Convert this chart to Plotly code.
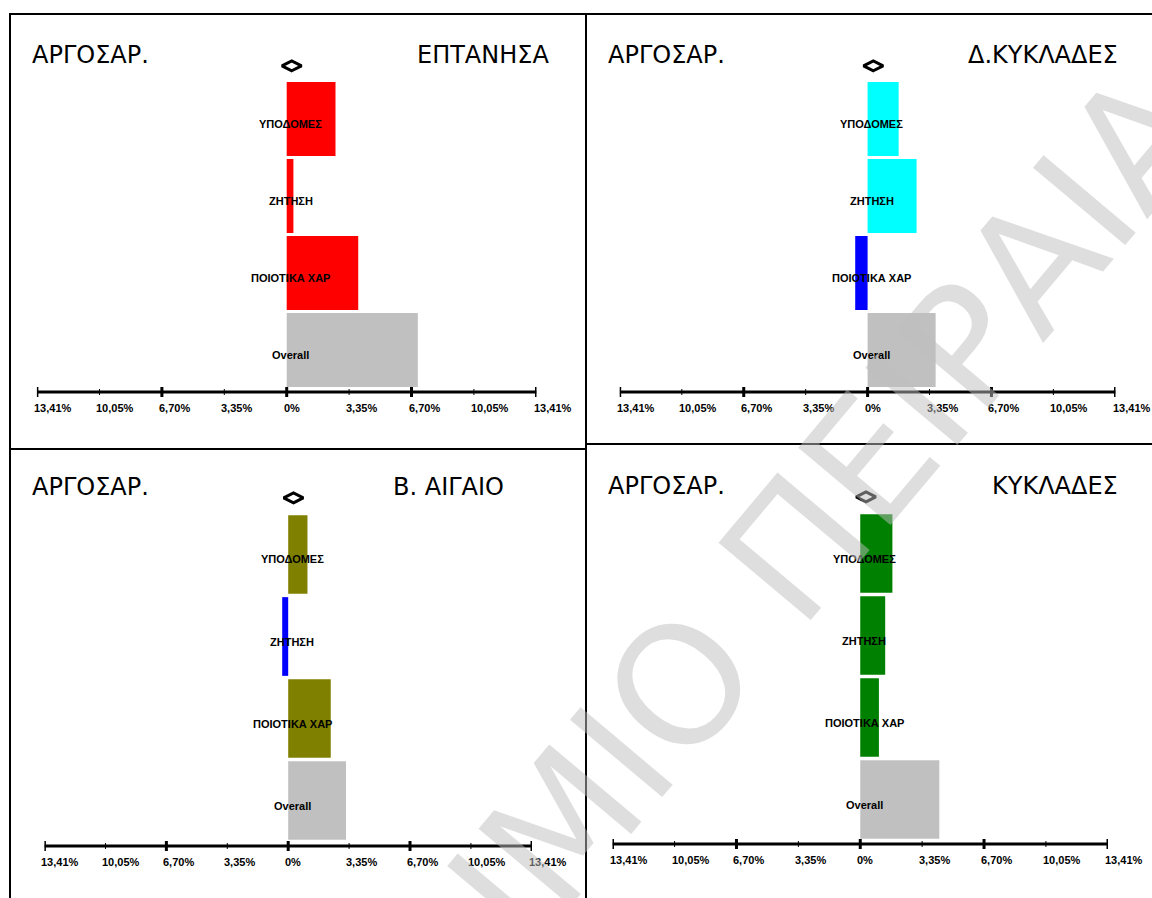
import plotly.graph_objects as go

# ---------------- data ----------------
left_title = "ΑΡΓΟΣΑΡ."
regions = ["ΕΠΤΑΝΗΣΑ", "Δ.ΚΥΚΛΑΔΕΣ", "Β. ΑΙΓΑΙΟ", "ΚΥΚΛΑΔΕΣ"]
categories = ["ΥΠΟΔΟΜΕΣ", "ΖΗΤΗΣΗ", "ΠΟΙΟΤΙΚΑ ΧΑΡ", "Overall"]  # top to bottom

values_eptanisa = [2.62, 0.36, 3.84, 7.04]
values_d_kyklades = [1.68, 2.65, -0.67, 3.68]
values_v_aigaio = [1.06, -0.33, 2.34, 3.18]
values_kyklades = [1.74, 1.35, 1.01, 4.28]
all_values = [values_eptanisa, values_d_kyklades, values_v_aigaio, values_kyklades]

diamond_x = [0.27, 0.31, 0.29, 0.31]

tick_vals = [-13.41, -10.05, -6.70, -3.35, 0, 3.35, 6.70, 10.05, 13.41]
tick_text = ["13,41%", "10,05%", "6,70%", "3,35%", "0%", "3,35%", "6,70%", "10,05%", "13,41%"]
major_ticks = [-13.41, -6.70, 0, 6.70, 13.41]

watermark_text = "ΠΑΝΕΠΙΣΤΗΜΙΟ ΠΕΙΡΑΙΑ"

# ---------------- styling / layout ----------------
W, H = 1152, 898
pos_colors = ["#FF0000", "#00FFFF", "#808000", "#008000"]
neg_color = "#0000FF"
overall_color = "#C0C0C0"
lab_font = "Liberation Sans, Arial, sans-serif"

Y_TOP = 3.9  # room above the top bar for the diamond marker
DIAMOND_Y = 3.69

# pixel geometry per panel: x range px, bottom of y range px, bar pitch px,
# axis y px, title y px, left title x px, right title x px
geo = [
    dict(x=(36.9, 536.5), yb=388.5, pitch=77, axis=392, ty=55, lx=30, rx=415),
    dict(x=(619.7, 1115.5), yb=388.5, pitch=77, axis=392, ty=55, lx=606, rx=966),
    dict(x=(44.4, 532.0), yb=841.5, pitch=82, axis=846, ty=487, lx=30, rx=391),
    dict(x=(612.5, 1108.0), yb=840.5, pitch=82, axis=844, ty=486, lx=606, rx=990),
]

def px(v):
    return v / W

def py(v):
    return 1 - v / H

fig = go.Figure()
shapes = []
annotations = []
ypos = [len(categories) - 1 - i for i in range(len(categories))]

for k, vals in enumerate(all_values):
    g = geo[k]
    n = "" if k == 0 else str(k + 1)
    xa, ya = "x" + n, "y" + n
    colors = []
    for cat, v in zip(categories, vals):
        if cat == "Overall":
            colors.append(overall_color)
        elif v < 0:
            colors.append(neg_color)
        else:
            colors.append(pos_colors[k])
    fig.add_trace(go.Bar(
        x=vals, y=ypos, orientation="h", width=0.96,
        marker=dict(color=colors, line=dict(width=0)),
        xaxis=xa, yaxis=ya, showlegend=False, hoverinfo="skip",
    ))
    fig.add_trace(go.Scatter(
        x=[diamond_x[k]], y=[DIAMOND_Y], mode="markers", cliponaxis=False,
        marker=dict(symbol="diamond-wide-open", size=14, color="black",
                    line=dict(width=3, color="black")),
        xaxis=xa, yaxis=ya, showlegend=False, hoverinfo="skip",
    ))
    ytop_px = g["yb"] - (Y_TOP + 0.5) * g["pitch"]
    fig.layout["xaxis" + n] = dict(domain=[px(g["x"][0]), px(g["x"][1])],
                                   range=[tick_vals[0], tick_vals[-1]],
                                   visible=False, anchor=ya, fixedrange=True)
    fig.layout["yaxis" + n] = dict(domain=[py(g["yb"]), py(ytop_px)],
                                   range=[-0.5, Y_TOP],
                                   visible=False, anchor=xa, fixedrange=True)
    # axis line
    shapes.append(dict(type="line", xref=xa, yref="paper",
                       x0=tick_vals[0], x1=tick_vals[-1],
                       y0=py(g["axis"]), y1=py(g["axis"]),
                       line=dict(color="black", width=3)))
    for t, lab in zip(tick_vals, tick_text):
        half = 5 if t in major_ticks else 3
        shapes.append(dict(type="line", xref=xa, yref="paper", x0=t, x1=t,
                           y0=py(g["axis"] - half), y1=py(g["axis"] + half),
                           line=dict(color="black", width=3 if t in major_ticks else 1)))
        annotations.append(dict(x=t, xref=xa, y=py(g["axis"] + 16), yref="paper",
                                text=lab, showarrow=False, xanchor="left", xshift=-5,
                                yanchor="middle",
                                font=dict(family=lab_font, size=11, color="black", weight=700)))
    # category labels
    for cat, yp in zip(categories, ypos):
        annotations.append(dict(x=0, xref=xa, y=yp, yref=ya, text=cat, showarrow=False,
                                xanchor="center", yanchor="middle", xshift=4, yshift=-5,
                                font=dict(family=lab_font, size=11, color="black", weight=700)))
    # titles
    annotations.append(dict(x=px(g["lx"]), y=py(g["ty"]), xref="paper", yref="paper",
                            text=left_title, showarrow=False, xanchor="left", yanchor="middle",
                            font=dict(family="DejaVu Sans", size=24, color="black")))
    annotations.append(dict(x=px(g["rx"]), y=py(g["ty"]), xref="paper", yref="paper",
                            text=regions[k], showarrow=False, xanchor="left", yanchor="middle",
                            font=dict(family="DejaVu Sans", size=24, color="black")))

# panel frames
frame = dict(color="black", width=2)
shapes += [
    dict(type="line", xref="paper", yref="paper", x0=px(9), x1=1, y0=py(14), y1=py(14), line=frame),
    dict(type="line", xref="paper", yref="paper", x0=px(10), x1=px(10), y0=py(14), y1=0, line=frame),
    dict(type="line", xref="paper", yref="paper", x0=px(586), x1=px(586), y0=py(14), y1=0, line=frame),
    dict(type="line", xref="paper", yref="paper", x0=px(9), x1=px(586), y0=py(449), y1=py(449), line=frame),
    dict(type="line", xref="paper", yref="paper", x0=px(586), x1=1, y0=py(444), y1=py(444), line=frame),
]

# watermark
annotations.append(dict(x=px(535), y=py(860), xref="paper", yref="paper",
                        text=watermark_text, showarrow=False, textangle=-50,
                        xanchor="center", yanchor="middle",
                        font=dict(family="DejaVu Sans", size=165, color="rgba(190,190,190,0.5)")))

fig.update_layout(
    width=W, height=H, autosize=False,
    margin=dict(l=0, r=0, t=0, b=0),
    paper_bgcolor="white", plot_bgcolor="white",
    bargap=0.04, showlegend=False,
    shapes=shapes, annotations=annotations,
)

fig.write_html("out.html", config={"displayModeBar": False},
               post_script="document.body.style.margin='0px';")
